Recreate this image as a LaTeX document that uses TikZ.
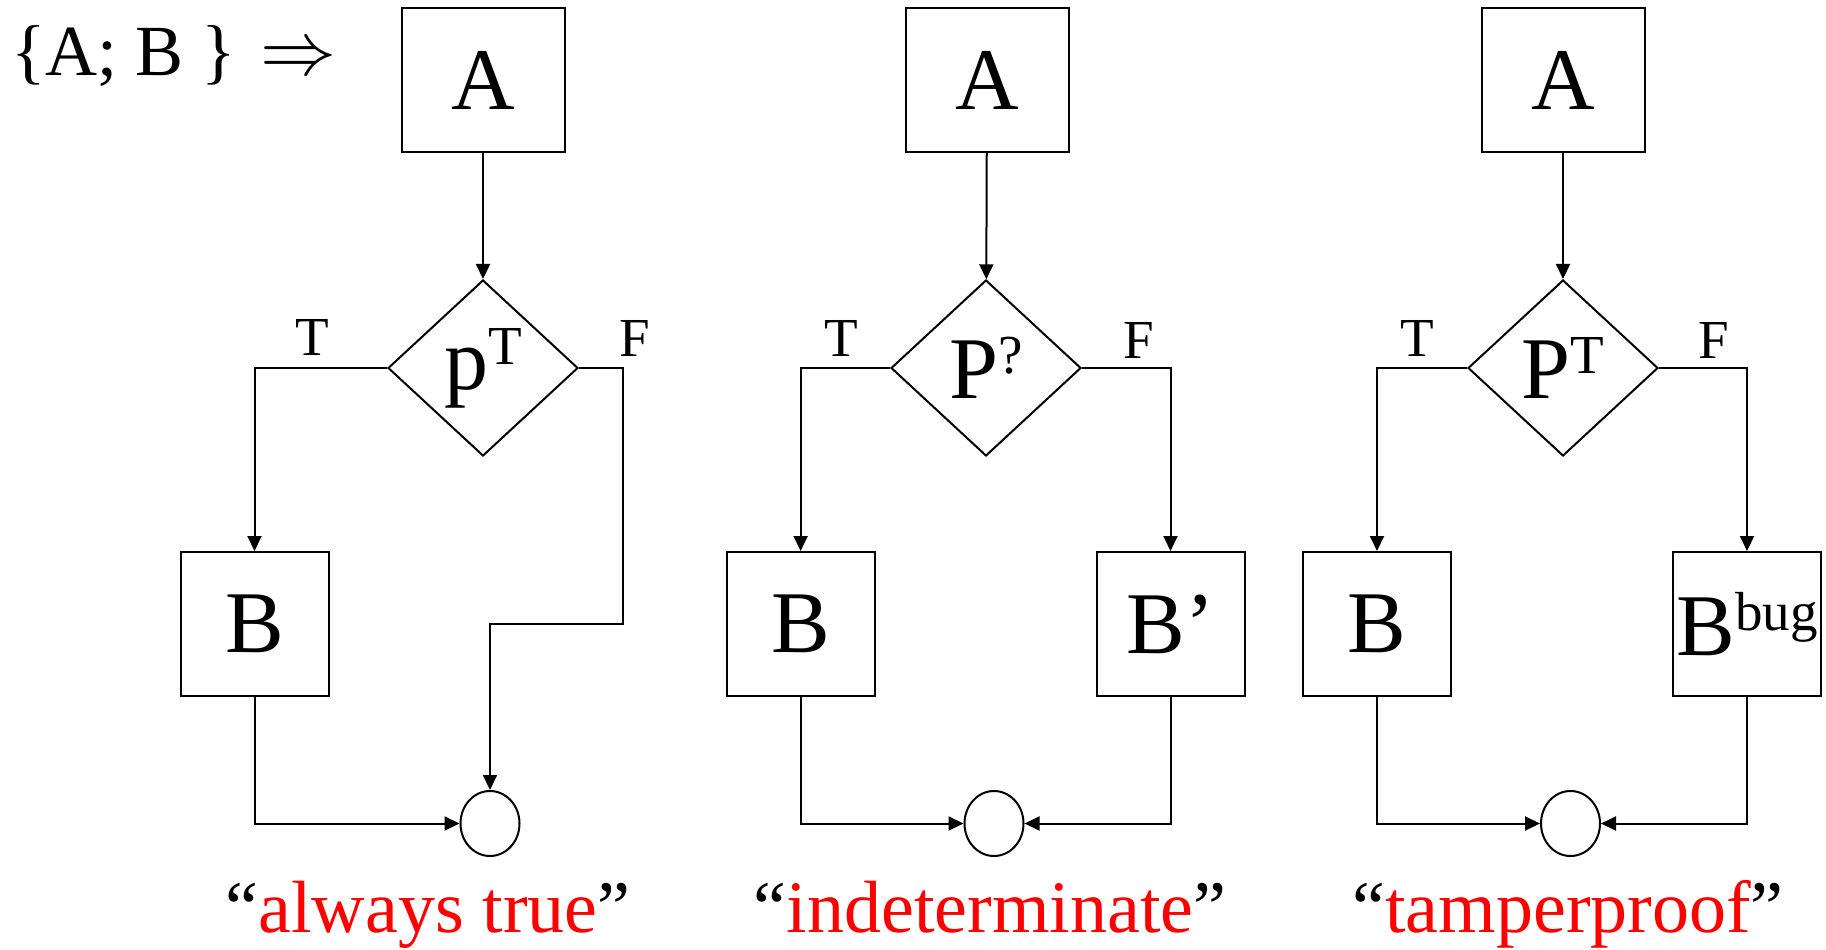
\documentclass[tikz,border=0pt]{standalone}
\usepackage{fontspec}
\setmainfont{Liberation Serif}
\usetikzlibrary{shapes.geometric,arrows.meta}
\tikzset{>={Triangle[length=15pt,width=14pt]}}
\tikzset{
  block/.style={draw,line width=2pt,minimum width=148pt,minimum height=144pt,inner sep=0pt,font=\fontsize{88}{90}\selectfont},
  topblock/.style={block,minimum width=163pt,minimum height=143pt},
  test/.style={draw,diamond,line width=2pt,minimum width=190pt,minimum height=176pt,inner sep=0pt,font=\fontsize{88}{90}\selectfont},
  merge/.style={draw,ellipse,line width=2pt,minimum width=59pt,minimum height=65pt,inner sep=0pt},
  branch/.style={inner sep=0pt,font=\fontsize{55}{56}\selectfont},
  caption/.style={anchor=base,inner sep=0pt,font=\fontsize{74}{76}\selectfont}
}
\newcommand\upmark[1]{\raisebox{25pt}{\fontsize{55}{56}\selectfont #1}}

\begin{document}
\begin{tikzpicture}[x=1pt,y=-1pt,line width=2pt]
  \useasboundingbox (0,0) rectangle (1826,950);

  \node[anchor=base west,inner sep=0pt,font=\fontsize{72}{76}\selectfont] (rule) at (10,75) {\{A; B \}\hspace{6pt} \raisebox{1pt}{\scalebox{7.6}{\normalsize$\Rightarrow$}}};

  % always true
  \node[topblock] (a1) at (483,80) {A};
  \node[test] (d1) at (483,368) {p\upmark{T}};
  \node[block] (b1) at (254.5,624) {B};
  \node[merge] (j1) at (490,823.5) {};
  \coordinate (f1) at (623,624);
  \draw[->] (a1) -- (d1);
  \draw[->] (d1.west) -| (b1.north);
  \draw[->] (d1.east) -| (f1) -| (j1.north);
  \draw[->] (b1.south) |- (j1.west);
  \node[branch] (t1) at (312,337) {T};
  \node[branch] (e1) at (635,338) {F};
  \node[caption] (c1) at (428,932) {“\textcolor{red}{always true}”};

  % indeterminate
  \node[topblock] (a2) at (987,80) {A};
  \node[test] (d2) at (986,368) {P\upmark{?}};
  \node[block] (b2) at (800.6,624) {B};
  \node[block] (bb2) at (1170.5,624) {B’};
  \node[merge] (j2) at (994,823.5) {};
  \draw[->] (a2) -- (d2);
  \draw[->] (d2.west) -| (b2.north);
  \draw[->] (d2.east) -| (bb2.north);
  \draw[->] (b2.south) |- (j2.west);
  \draw[->] (bb2.south) |- (j2.east);
  \node[branch] (t2) at (841,338) {T};
  \node[branch] (e2) at (1139,340) {F};
  \node[caption] (c2) at (990,932) {“\textcolor{red}{indeterminate}”};

  % tamperproof
  \node[topblock] (a3) at (1563,80) {A};
  \node[test] (d3) at (1563,368) {P\upmark{T}};
  \node[block] (b3) at (1377,624) {B};
  \node[block] (bb3) at (1747,624) {B\upmark{bug}};
  \node[merge] (j3) at (1570.5,823.5) {};
  \draw[->] (a3) -- (d3);
  \draw[->] (d3.west) -| (b3.north);
  \draw[->] (d3.east) -| (bb3.north);
  \draw[->] (b3.south) |- (j3.west);
  \draw[->] (bb3.south) |- (j3.east);
  \node[branch] (t3) at (1417,338) {T};
  \node[branch] (e3) at (1714,340) {F};
  \node[caption] (c3) at (1568,932) {“\textcolor{red}{tamperproof}”};

\end{tikzpicture}
\end{document}
